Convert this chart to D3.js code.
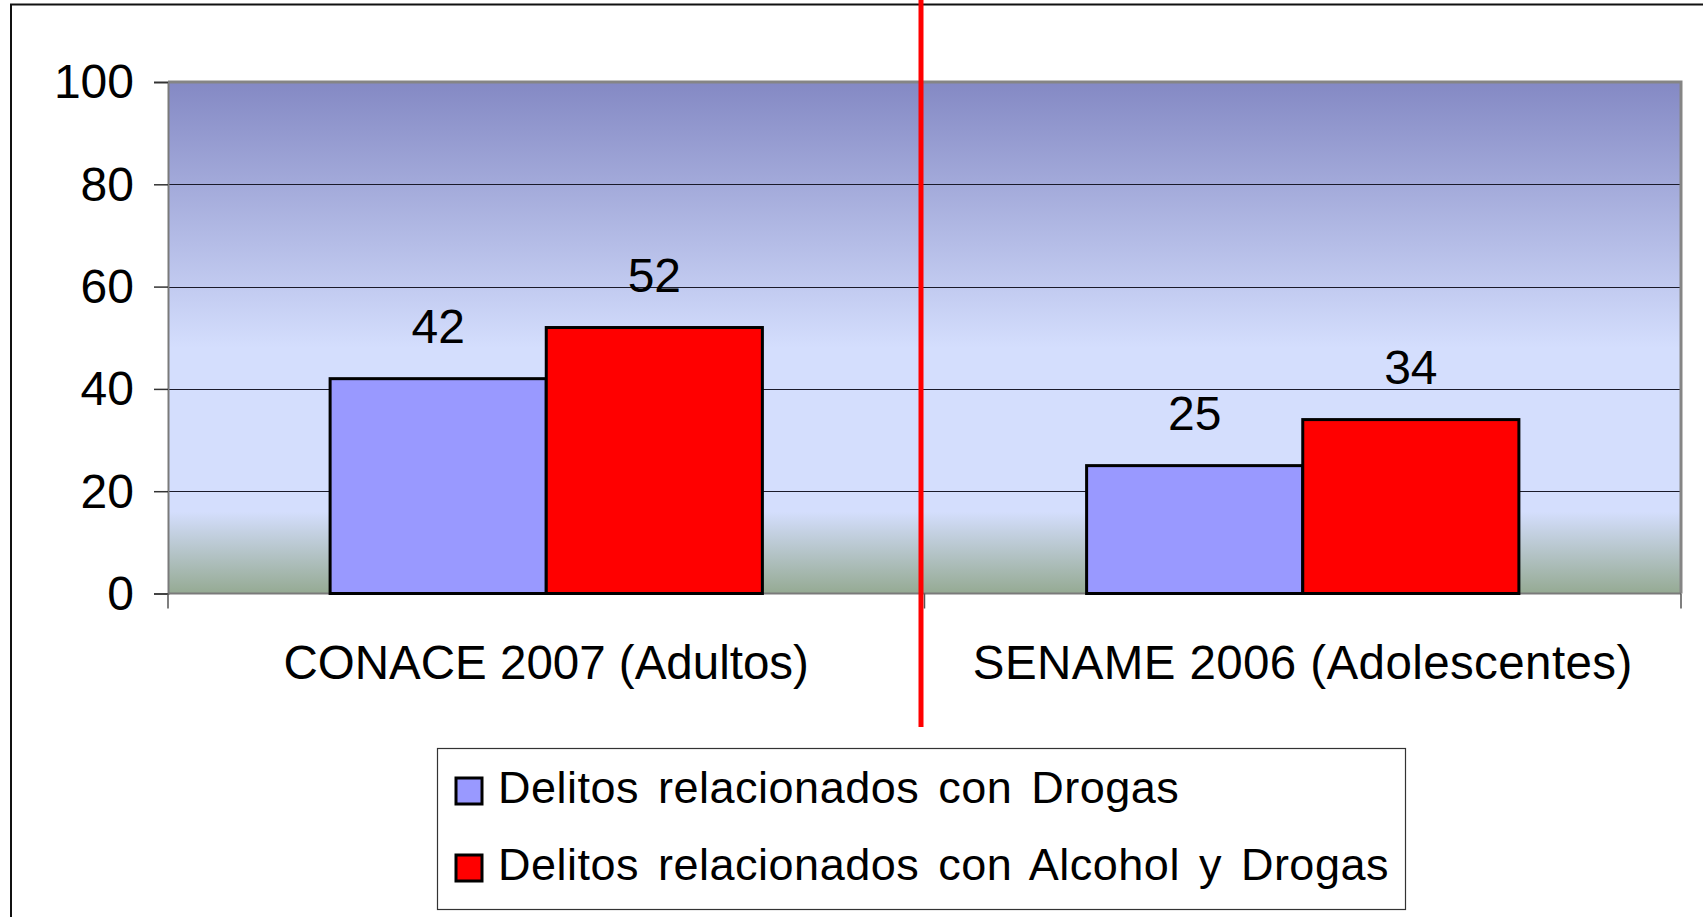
<!DOCTYPE html>
<html>
<head>
<meta charset="utf-8">
<script src="https://cdn.jsdelivr.net/npm/d3@7"></script>
<style>
  html, body { margin: 0; padding: 0; background: #fff; }
  svg { display: block; font-family: "Liberation Sans", Arial, sans-serif; }
</style>
</head>
<body>
<div id="chart"></div>
<script>
// chart data
const categories = ["CONACE 2007 (Adultos)", "SENAME 2006 (Adolescentes)"];
const seriesNames = ["Delitos relacionados con Drogas", "Delitos relacionados con Alcohol y Drogas"];
const seriesColors = ["#9999ff", "#ff0000"];
const drogas = [42, 25];
const alcoholDrogas = [52, 34];
const yTicks = [0, 20, 40, 60, 80, 100];

const width = 1703, height = 917;
const plot = { left: 168, top: 82, right: 1681, bottom: 593.5 };

const svg = d3.select("#chart").append("svg")
  .attr("width", width)
  .attr("height", height);

// background gradient of the plot area
const defs = svg.append("defs");
const grad = defs.append("linearGradient")
  .attr("id", "bg").attr("x1", 0).attr("y1", 0).attr("x2", 0).attr("y2", 1);
grad.append("stop").attr("offset", "0%").attr("stop-color", "#8489c4");
grad.append("stop").attr("offset", "52%").attr("stop-color", "#d4defd");
grad.append("stop").attr("offset", "84%").attr("stop-color", "#d4defd");
grad.append("stop").attr("offset", "100%").attr("stop-color", "#95aa93");

// outer frame
svg.append("rect")
  .attr("x", 11).attr("y", 4.5)
  .attr("width", width + 20).attr("height", height + 20)
  .attr("fill", "#fff").attr("stroke", "#111").attr("stroke-width", 2);

const x0 = d3.scaleBand().domain(categories).range([plot.left, plot.right]);
const x1 = d3.scaleBand().domain(seriesNames).range([0, x0.bandwidth()])
  .paddingInner(0).paddingOuter(0.75);
const y = d3.scaleLinear().domain([0, 100]).range([plot.bottom, plot.top]);

// plot area
svg.append("rect")
  .attr("x", plot.left).attr("y", plot.top)
  .attr("width", plot.right - plot.left).attr("height", plot.bottom - plot.top)
  .attr("fill", "url(#bg)");

// gridlines
svg.append("g")
  .selectAll("line")
  .data(yTicks.filter(d => d > 0 && d < 100))
  .join("line")
  .attr("x1", plot.left).attr("x2", plot.right)
  .attr("y1", d => Math.round(y(d)) + 0.5).attr("y2", d => Math.round(y(d)) + 0.5)
  .attr("stroke", "#1a1a2a").attr("stroke-width", 1.2);

// plot border: top and right gray
svg.append("path")
  .attr("d", `M${plot.left},${plot.top} H${plot.right} V${plot.bottom}`)
  .attr("fill", "none").attr("stroke", "#858585").attr("stroke-width", 3);

// y axis
const yAxis = svg.append("g")
  .attr("transform", `translate(${plot.left},0)`)
  .call(d3.axisLeft(y).tickValues(yTicks).tickSize(14).tickPadding(20));
yAxis.select(".domain").attr("stroke", "#7a7a7a").attr("stroke-width", 2);
yAxis.selectAll(".tick line").attr("stroke", "#333").attr("stroke-width", 1.5);
yAxis.selectAll(".tick text")
  .attr("font-size", 48).attr("fill", "#000")
  .attr("font-family", "Liberation Sans, Arial, sans-serif")
  .attr("dy", "0.33em");

// x axis line and category ticks
svg.append("line")
  .attr("x1", plot.left).attr("x2", plot.right)
  .attr("y1", plot.bottom).attr("y2", plot.bottom)
  .attr("stroke", "#7a7a7a").attr("stroke-width", 2);
const edges = categories.map(c => x0(c)).concat([x0.range()[1]]);
svg.append("g").selectAll("line")
  .data(edges)
  .join("line")
  .attr("x1", d => d).attr("x2", d => d)
  .attr("y1", plot.bottom).attr("y2", plot.bottom + 15)
  .attr("stroke", "#555").attr("stroke-width", 1.5);

svg.append("g").selectAll("text")
  .data(categories)
  .join("text")
  .attr("x", d => x0(d) + x0.bandwidth() / 2)
  .attr("y", 679)
  .attr("text-anchor", "middle")
  .attr("font-size", 47.5)
  .attr("letter-spacing", (d, i) => i === 1 ? 0.4 : 0)
  .text(d => d);

// bars
const rows = categories.map((c, i) => ({ cat: c, values: [drogas[i], alcoholDrogas[i]] }));
const groups = svg.append("g").selectAll("g")
  .data(rows)
  .join("g")
  .attr("transform", d => `translate(${x0(d.cat)},0)`);

groups.selectAll("rect")
  .data(d => d.values.map((v, j) => ({ name: seriesNames[j], value: v, color: seriesColors[j] })))
  .join("rect")
  .attr("x", d => x1(d.name))
  .attr("y", d => y(d.value))
  .attr("width", x1.bandwidth())
  .attr("height", d => y(0) - y(d.value))
  .attr("fill", d => d.color)
  .attr("stroke", "#000").attr("stroke-width", 3);

groups.selectAll("text")
  .data(d => d.values.map((v, j) => ({ name: seriesNames[j], value: v })))
  .join("text")
  .attr("x", d => x1(d.name) + x1.bandwidth() / 2)
  .attr("y", d => y(d.value) - 36)
  .attr("text-anchor", "middle")
  .attr("font-size", 48)
  .text(d => d.value);

// red divider
svg.append("line")
  .attr("x1", 921).attr("x2", 921)
  .attr("y1", 0).attr("y2", 727)
  .attr("stroke", "#ff0000").attr("stroke-width", 5);

// legend
const legend = svg.append("g");
legend.append("rect")
  .attr("x", 437.5).attr("y", 748.5).attr("width", 968).attr("height", 161)
  .attr("fill", "#fff").attr("stroke", "#333").attr("stroke-width", 1.2);

const items = legend.selectAll("g")
  .data(seriesNames)
  .join("g")
  .attr("transform", (d, i) => `translate(0,${i * 77})`);
items.append("rect")
  .attr("x", 456).attr("y", 778).attr("width", 26).attr("height", 26)
  .attr("fill", (d, i) => seriesColors[i])
  .attr("stroke", "#000").attr("stroke-width", 3);
items.append("text")
  .attr("x", 498).attr("y", 803)
  .attr("font-size", 45)
  .attr("letter-spacing", 0.5)
  .attr("word-spacing", 6)
  .text(d => d);
</script>
</body>
</html>
